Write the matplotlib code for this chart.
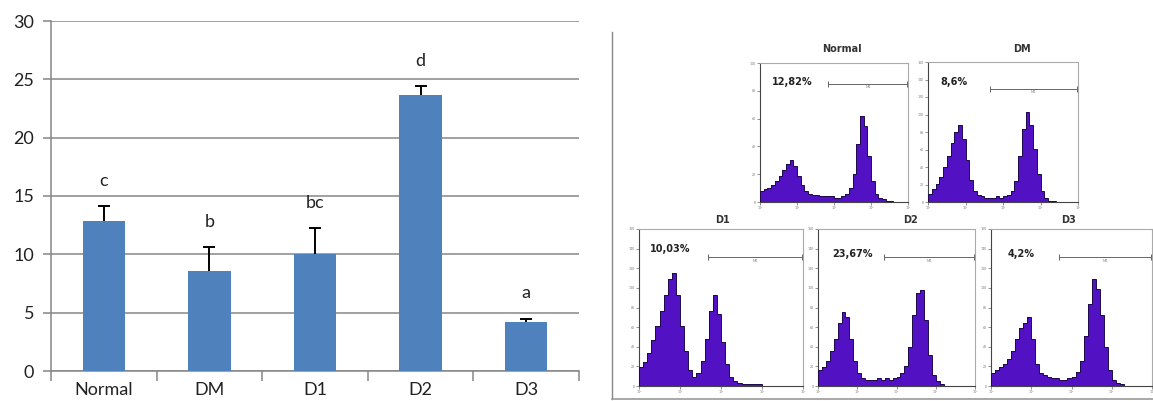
import numpy as np
import matplotlib
matplotlib.use("Agg")
import matplotlib.pyplot as plt
from matplotlib.lines import Line2D

W, H = 1153, 401

# bar chart data
groups = ["Normal", "DM", "D1", "D2", "D3"]
means = [12.82, 8.6, 10.03, 23.67, 4.2]
errors = [1.3, 2.0, 2.25, 0.75, 0.3]
letters = ["c", "b", "bc", "d", "a"]

# flow cytometry panels (bin heights as fraction of the plot height)
panel_names = ["Normal", "DM", "D1", "D2", "D3"]
panel_pcts = ["12,82%", "8,6%", "10,03%", "23,67%", "4,2%"]
normal_hist = [0.08, 0.09, 0.10, 0.12, 0.15, 0.19, 0.23, 0.27, 0.30, 0.26, 0.19, 0.12, 0.08, 0.06,
               0.05, 0.05, 0.04, 0.04, 0.04, 0.04, 0.03, 0.03, 0.04, 0.06, 0.10, 0.20, 0.42, 0.62,
               0.55, 0.33, 0.15, 0.06, 0.03, 0.02, 0.01, 0.01, 0, 0, 0, 0]
dm_hist = [0.06, 0.09, 0.13, 0.18, 0.25, 0.33, 0.42, 0.50, 0.55, 0.45, 0.30, 0.16, 0.08, 0.05,
           0.04, 0.03, 0.03, 0.03, 0.04, 0.03, 0.04, 0.05, 0.08, 0.15, 0.33, 0.52, 0.64, 0.55,
           0.38, 0.20, 0.08, 0.03, 0.01, 0.01, 0, 0, 0, 0, 0, 0]
d1_hist = [0.12, 0.15, 0.21, 0.29, 0.38, 0.48, 0.58, 0.68, 0.72, 0.58, 0.38, 0.22, 0.10, 0.06,
           0.08, 0.16, 0.30, 0.48, 0.58, 0.46, 0.28, 0.14, 0.06, 0.03, 0.02, 0.01, 0.01, 0.01,
           0.01, 0.01, 0, 0, 0, 0, 0, 0, 0, 0, 0, 0]
d2_hist = [0.10, 0.12, 0.16, 0.22, 0.30, 0.40, 0.47, 0.44, 0.30, 0.16, 0.08, 0.05, 0.04, 0.04,
           0.04, 0.05, 0.04, 0.05, 0.04, 0.05, 0.06, 0.08, 0.13, 0.25, 0.45, 0.59, 0.61, 0.42,
           0.20, 0.07, 0.03, 0.01, 0, 0, 0, 0, 0, 0, 0, 0]
d3_hist = [0.08, 0.10, 0.12, 0.14, 0.17, 0.22, 0.30, 0.37, 0.40, 0.44, 0.30, 0.14, 0.08, 0.07,
           0.06, 0.05, 0.05, 0.04, 0.04, 0.05, 0.06, 0.09, 0.16, 0.32, 0.52, 0.68, 0.62, 0.45,
           0.25, 0.10, 0.04, 0.02, 0.01, 0, 0, 0, 0, 0, 0, 0]
hists = [normal_hist, dm_hist, d1_hist, d2_hist, d3_hist]

# layout in pixels: box (x0, y0, x1, y1), title pos, pct pos (axes frac), gate (x0, y) axes frac, n yticks
layout = [
    dict(box=(760, 63, 908, 202), title=(842, 49), pct=(0.22, 0.86), gate=(0.46, 0.85), ny=6),
    dict(box=(928, 62, 1078, 202), title=(1022, 49), pct=(0.17, 0.86), gate=(0.41, 0.81), ny=9),
    dict(box=(639, 229, 803, 386), title=(722, 220), pct=(0.19, 0.87), gate=(0.42, 0.82), ny=9),
    dict(box=(818, 229, 975, 386), title=(911, 220), pct=(0.22, 0.84), gate=(0.42, 0.82), ny=9),
    dict(box=(991, 229, 1152, 386), title=(1069, 220), pct=(0.19, 0.84), gate=(0.42, 0.82), ny=9),
]


def px_axes(fig, x0, y0, x1, y1):
    return fig.add_axes([x0 / W, 1 - y1 / H, (x1 - x0) / W, (y1 - y0) / H])


fig = plt.figure(figsize=(W / 100, H / 100), dpi=100)
plt.rcParams['font.family'] = ['Lato', 'DejaVu Sans']

# ---- left: bar chart ----
ax = px_axes(fig, 51, 21, 579, 371)
x = np.arange(len(groups))
tops = np.array(means) + np.array(errors)
grid_c = "#868686"
ax.bar(x, means, width=0.4, color="#4F81BD", zorder=3)
# upper error bar only, cap on top
ax.vlines(x, means, tops, color="black", lw=1.4, zorder=4)
ax.plot(x, tops, ls="none", marker="_", markersize=9, markeredgewidth=1.4, color="black", zorder=4)
for xi, t, lab in zip(x, tops, letters):
    ax.annotate(lab, (xi, t), xytext=(0, 18), textcoords="offset points",
                ha="center", va="center", fontsize=13, color="#222222")
ax.set_xlim(-0.5, len(groups) - 0.5)
ax.set_ylim(0, 30)
ax.set_yticks(range(0, 31, 5))
ax.yaxis.grid(True, color=grid_c, linewidth=1.1, zorder=0)
ax.set_axisbelow(True)
for s in ["top", "right"]:
    ax.spines[s].set_visible(False)
for s in ["left", "bottom"]:
    ax.spines[s].set_color(grid_c)
    ax.spines[s].set_linewidth(1.1)
ax.set_xticks(x)
ax.set_xticklabels(groups)
ax.set_xticks(np.arange(-0.5, len(groups)), minor=True)
ax.tick_params(axis="x", which="major", length=0, pad=8, labelsize=13, labelcolor="#222222")
ax.tick_params(axis="x", which="minor", length=7, color=grid_c, width=1.1)
ax.tick_params(axis="y", length=6, color=grid_c, width=1.1, pad=6, labelsize=13,
               labelcolor="#222222")

# ---- right: frame lines ----
fig.add_artist(Line2D([612 / W, 612 / W], [1 - 32 / H, 1 - 399 / H], color="#888888", lw=1))
fig.add_artist(Line2D([612 / W, 1.0], [1 - 399 / H, 1 - 399 / H], color="#999999", lw=1.2))

# ---- right: histograms ----
fill_c = "#5212c4"
edges = np.linspace(0, 1, len(normal_hist) + 1)
for name, pct, vals, lay in zip(panel_names, panel_pcts, hists, layout):
    hx = px_axes(fig, *lay["box"])
    hx.stairs(vals, edges, fill=True, color=fill_c, zorder=2)
    hx.stairs(vals, edges, color="#1c0b4a", lw=0.7, zorder=3)
    hx.set_xlim(0, 1)
    hx.set_ylim(0, 1)
    for s in ["top", "right"]:
        hx.spines[s].set_color("#aaaaaa")
        hx.spines[s].set_linewidth(0.8)
    for s in ["left", "bottom"]:
        hx.spines[s].set_color("#444444")
        hx.spines[s].set_linewidth(0.8)
    hx.set_xticks(np.linspace(0, 1, 5))
    hx.set_xticklabels(["10⁰", "10¹", "10²", "10³", "10⁴"])
    hx.set_yticks(np.linspace(0, 1, lay["ny"]))
    hx.set_yticklabels([str(i * 20) for i in range(lay["ny"])])
    hx.tick_params(length=2, width=0.5, color="#666666", labelsize=2.5, pad=1,
                   labelcolor="#777777")
    gx, gy = lay["gate"]
    hx.plot([gx, 0.995], [gy, gy], color="#666666", lw=0.7, marker="|", markersize=5,
            markeredgewidth=0.7, transform=hx.transAxes, zorder=4, clip_on=False)
    hx.text((gx + 1) / 2, gy - 0.03, "M1", fontsize=2.5, color="#777777", ha="center",
            transform=hx.transAxes)
    px, py = lay["pct"]
    hx.text(px, py, pct, transform=hx.transAxes, ha="center", va="center", fontsize=7,
            fontweight="bold", family="DejaVu Sans", color="#222222")
    tx, ty = lay["title"]
    fig.text(tx / W, 1 - ty / H, name, ha="center", va="center", fontsize=7,
             fontweight="bold", family="DejaVu Sans", color="#333333")

fig.savefig("out.png", dpi=100)
